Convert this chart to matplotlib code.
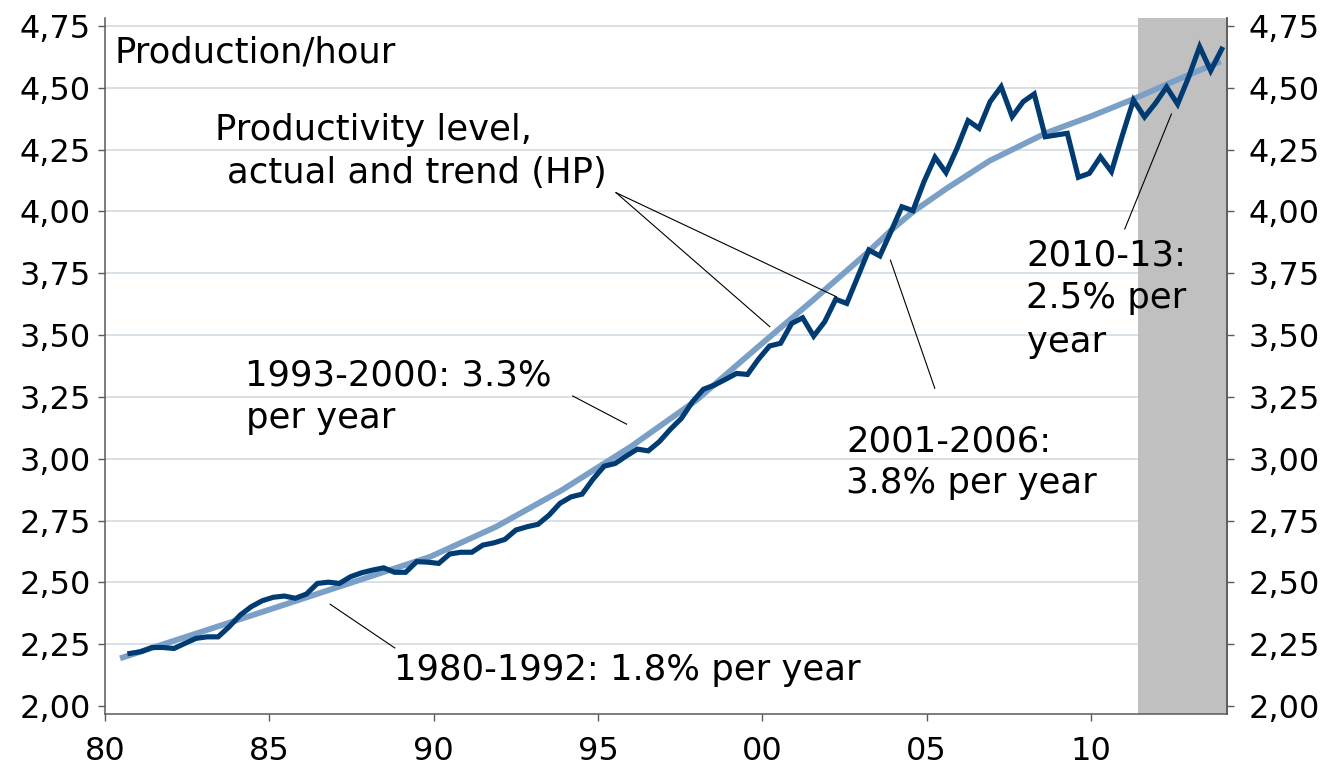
import numpy as np
import matplotlib
matplotlib.use("Agg")
import matplotlib.pyplot as plt

plt.rcParams["font.family"] = ["DejaVu Sans"]

# productivity level, actual (about 3 obs per year, 1980 to 2013)
actual = [2.213, 2.220, 2.237, 2.237, 2.233, 2.254, 2.274, 2.280, 2.280, 2.321,
          2.368, 2.402, 2.426, 2.440, 2.445, 2.436, 2.453, 2.496, 2.501, 2.496,
          2.523, 2.539, 2.550, 2.559, 2.541, 2.541, 2.584, 2.582, 2.577, 2.615,
          2.622, 2.622, 2.651, 2.660, 2.674, 2.712, 2.725, 2.735, 2.772, 2.820,
          2.846, 2.857, 2.918, 2.970, 2.981, 3.011, 3.039, 3.032, 3.069, 3.119,
          3.163, 3.230, 3.281, 3.298, 3.321, 3.345, 3.341, 3.403, 3.456, 3.467,
          3.547, 3.570, 3.496, 3.554, 3.645, 3.628, 3.736, 3.844, 3.820, 3.918,
          4.019, 4.003, 4.120, 4.219, 4.157, 4.255, 4.367, 4.336, 4.444, 4.504,
          4.383, 4.444, 4.475, 4.302, 4.309, 4.316, 4.138, 4.154, 4.221, 4.161,
          4.309, 4.450, 4.382, 4.438, 4.503, 4.434, 4.543, 4.666, 4.569, 4.656]
actual_dates = np.linspace(1980.76, 2013.98, len(actual))

# HP trend
trend_dates = [1980.46, 1985.0, 1989.9, 1991.9, 1993.9, 1996.0, 1998.0, 1998.7,
               1999.3, 2000.0, 2001.55, 2003.17, 2003.93, 2004.59, 2005.61,
               2006.92, 2008.65, 2009.97, 2011.27, 2012.5, 2013.95]
trend = [2.193, 2.390, 2.604, 2.725, 2.873, 3.049, 3.237, 3.318, 3.387, 3.467,
         3.642, 3.830, 3.925, 3.999, 4.093, 4.205, 4.318, 4.383, 4.453, 4.525,
         4.607]

shade_start = 2011.42
xticks = [1980, 1985, 1990, 1995, 2000, 2005, 2010]
xticklabels = ["80", "85", "90", "95", "00", "05", "10"]
yticks = [2.00, 2.25, 2.50, 2.75, 3.00, 3.25, 3.50, 3.75, 4.00, 4.25, 4.50, 4.75]
yticklabels = [f"{v:.2f}".replace(".", ",") for v in yticks]

dark = "#003B71"
light = "#7BA0C7"
axis_col = "#595959"
fs_tick = 23
fs_text = 25.5

fig = plt.figure(figsize=(13.32, 7.74), dpi=100)
ax = fig.add_axes([0.0788, 0.0775, 0.8421, 0.8992])
xmin, xmax = 1980.0, 2014.13
ymin, ymax = 1.968, 4.782

ax.axvspan(shade_start, xmax + 1, color="#C0C0C0", lw=0, zorder=1)
ax.plot(trend_dates, trend, color=light, lw=4.2, zorder=3, solid_capstyle="butt")
ax.plot(actual_dates, actual, color=dark, lw=3.7, zorder=4, solid_joinstyle="miter")

ax.set_xlim(xmin, xmax)
ax.set_ylim(ymin, ymax)
ax.set_xticks(xticks)
ax.set_xticklabels(xticklabels)
ax.set_yticks(yticks)
ax.set_yticklabels(yticklabels)
ax.set_axisbelow(True)
ax.grid(axis="y", color="#D5DEE6", lw=1.3)
ax.get_ygridlines()[0].set_visible(False)
ax.tick_params(axis="x", direction="out", length=5, width=1, pad=11,
               labelsize=fs_tick, color=axis_col)
ax.tick_params(axis="y", direction="out", length=5, width=1, pad=5,
               labelsize=fs_tick, color=axis_col)
for s in ["left", "right", "bottom"]:
    ax.spines[s].set_color(axis_col)
    ax.spines[s].set_linewidth(1.1)
ax.spines["top"].set_visible(False)

ax2 = ax.twinx()
ax2.set_ylim(ymin, ymax)
ax2.set_yticks(yticks)
ax2.set_yticklabels(yticklabels)
ax2.tick_params(axis="y", direction="out", length=5, width=1, pad=11,
                labelsize=fs_tick, color=axis_col)
for s in ["left", "right", "bottom", "top"]:
    ax2.spines[s].set_visible(False)
ax2.spines["right"].set_visible(True)
ax2.spines["right"].set_color(axis_col)
ax2.spines["right"].set_linewidth(1.1)

# texts (left x, baseline y in data units)
texts = [
    ("Production/hour", 1980.30, 4.604),
    ("Productivity level,", 1983.35, 4.289),
    ("actual and trend (HP)", 1983.70, 4.115),
    ("1993-2000: 3.3%", 1984.25, 3.298),
    ("per year", 1984.30, 3.124),
    ("2001-2006:", 2002.56, 3.028),
    ("3.8% per year", 2002.56, 2.860),
    ("1980-1992: 1.8% per year", 1988.80, 2.105),
    ("2010-13:", 2008.03, 3.783),
    ("2.5% per", 2008.03, 3.608),
    ("year", 2008.05, 3.431),
]
for t, x, y in texts:
    ax.text(x, y, t, fontsize=fs_text, ha="left", va="baseline", color="black",
            zorder=6)

# leader lines
leaders = [
    ((1995.55, 4.076), (2000.23, 3.534)),
    ((1995.55, 4.076), (2002.26, 3.655)),
    ((1994.23, 3.254), (1995.87, 3.140)),
    ((2003.90, 3.803), (2005.25, 3.285)),
    ((1986.85, 2.412), (1988.82, 2.235)),
    ((2011.03, 3.929), (2012.45, 4.394)),
]
for (x0, y0), (x1, y1) in leaders:
    ax.plot([x0, x1], [y0, y1], color="black", lw=0.8, zorder=5)

fig.savefig("out.png", dpi=100)
